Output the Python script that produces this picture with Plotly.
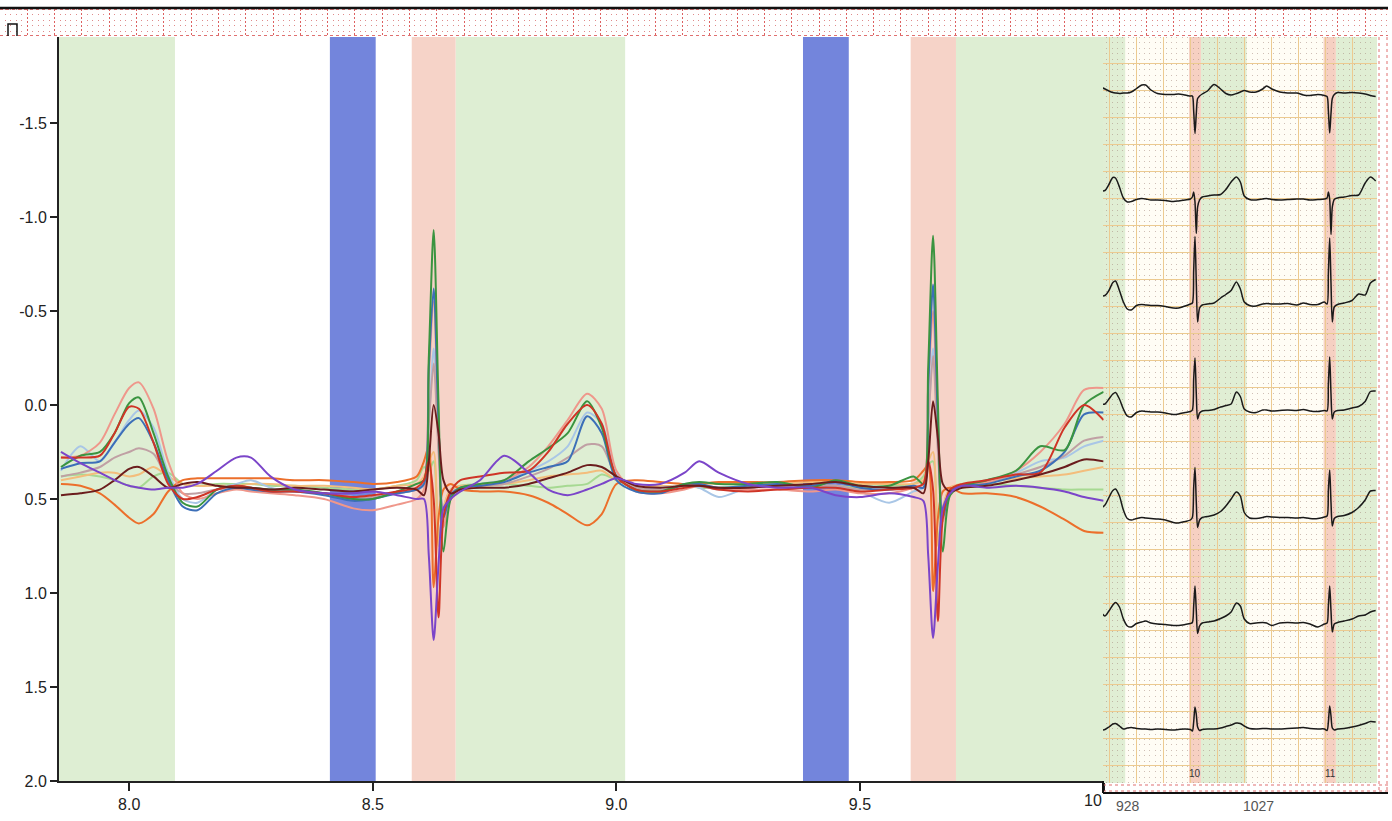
import plotly.graph_objects as go

W, H = 1392, 821


def pxx(x):
    return x / W


def pyy(y):
    return 1 - y / H


# ---------------- data ----------------
t = [7.86, 7.90, 7.94, 7.97, 8.00, 8.02, 8.05, 8.08, 8.11, 8.14,
     8.18, 8.22, 8.25, 8.29, 8.34, 8.40, 8.46, 8.50, 8.55, 8.59,
     8.605, 8.615, 8.625, 8.635, 8.645, 8.66, 8.68, 8.72, 8.77, 8.82,
     8.86, 8.90, 8.94, 8.97, 9.00, 9.04, 9.09, 9.14, 9.17, 9.21,
     9.27, 9.33, 9.40, 9.45, 9.50, 9.56, 9.61, 9.63, 9.64, 9.65,
     9.66, 9.67, 9.685, 9.71, 9.76, 9.82, 9.87, 9.92, 9.96, 10.0]

green_v = [0.33, 0.27, 0.25, 0.15, -0.01, -0.04, 0.15, 0.38, 0.52, 0.54,
           0.45, 0.43, 0.44, 0.45, 0.45, 0.47, 0.50, 0.50, 0.46, 0.42,
           0.40, -0.25, -0.93, 0.00, 0.78, 0.50, 0.44, 0.42, 0.40, 0.30,
           0.23, 0.15, -0.02, 0.12, 0.38, 0.45, 0.46, 0.42, 0.41, 0.42,
           0.42, 0.41, 0.44, 0.40, 0.43, 0.43, 0.38, 0.42, -0.20, -0.90,
           0.00, 0.78, 0.48, 0.43, 0.40, 0.35, 0.22, 0.24, 0.00, -0.07]
blue_v = [0.34, 0.31, 0.30, 0.20, 0.10, 0.07, 0.20, 0.40, 0.54, 0.56,
          0.47, 0.44, 0.45, 0.46, 0.46, 0.48, 0.51, 0.50, 0.47, 0.45,
          0.42, -0.20, -0.62, 0.10, 0.60, 0.48, 0.44, 0.43, 0.41, 0.36,
          0.33, 0.30, 0.06, 0.15, 0.40, 0.46, 0.47, 0.42, 0.42, 0.44,
          0.43, 0.42, 0.43, 0.41, 0.44, 0.45, 0.43, 0.44, -0.10, -0.64,
          0.10, 0.60, 0.46, 0.43, 0.42, 0.38, 0.35, 0.25, 0.05, 0.04]
pink_v = [0.28, 0.27, 0.20, 0.05, -0.09, -0.12, 0.02, 0.30, 0.47, 0.50,
          0.47, 0.45, 0.46, 0.47, 0.48, 0.50, 0.55, 0.56, 0.53, 0.50,
          0.45, -0.15, -0.55, 0.15, 0.65, 0.50, 0.45, 0.43, 0.40, 0.33,
          0.22, 0.08, -0.06, 0.02, 0.35, 0.46, 0.47, 0.45, 0.43, 0.44,
          0.45, 0.45, 0.46, 0.45, 0.47, 0.47, 0.44, 0.42, -0.10, -0.50,
          0.15, 0.62, 0.47, 0.43, 0.41, 0.35, 0.25, 0.10, -0.08, -0.09]
red_v = [0.28, 0.28, 0.27, 0.15, 0.01, 0.02, 0.20, 0.42, 0.50, 0.49,
         0.45, 0.43, 0.44, 0.46, 0.46, 0.47, 0.49, 0.48, 0.46, 0.44,
         0.40, 0.30, 0.50, 1.13, 0.60, 0.46, 0.40, 0.38, 0.36, 0.35,
         0.25, 0.10, 0.00, 0.10, 0.38, 0.45, 0.46, 0.44, 0.43, 0.45,
         0.46, 0.45, 0.44, 0.44, 0.46, 0.45, 0.44, 0.42, 0.30, 0.45,
         1.15, 0.60, 0.45, 0.42, 0.40, 0.37, 0.36, 0.12, 0.00, 0.08]
lightblue_v = [0.35, 0.22, 0.30, 0.20, 0.08, 0.03, 0.12, 0.36, 0.50, 0.52,
               0.45, 0.42, 0.40, 0.44, 0.46, 0.47, 0.49, 0.49, 0.47, 0.45,
               0.43, 0.10, -0.30, 0.20, 0.65, 0.50, 0.44, 0.42, 0.40, 0.35,
               0.30, 0.22, 0.04, 0.10, 0.36, 0.45, 0.44, 0.43, 0.44, 0.49,
               0.44, 0.43, 0.44, 0.43, 0.46, 0.52, 0.46, 0.44, 0.10, -0.30,
               0.20, 0.62, 0.46, 0.43, 0.40, 0.36, 0.30, 0.28, 0.22, 0.19]
rosy_v = [0.38, 0.36, 0.33, 0.28, 0.25, 0.23, 0.26, 0.40, 0.47, 0.47,
          0.45, 0.44, 0.45, 0.46, 0.46, 0.47, 0.49, 0.49, 0.47, 0.45,
          0.42, 0.10, -0.22, 0.25, 0.55, 0.47, 0.44, 0.43, 0.42, 0.38,
          0.34, 0.28, 0.21, 0.22, 0.38, 0.44, 0.45, 0.43, 0.43, 0.45,
          0.44, 0.43, 0.43, 0.43, 0.45, 0.45, 0.44, 0.42, 0.10, -0.26,
          0.25, 0.55, 0.46, 0.43, 0.41, 0.37, 0.33, 0.27, 0.19, 0.17]
maroon_v = [0.48, 0.47, 0.45, 0.40, 0.34, 0.33, 0.38, 0.44, 0.42, 0.41,
            0.43, 0.44, 0.44, 0.45, 0.44, 0.45, 0.46, 0.45, 0.44, 0.45,
            0.48, 0.30, 0.00, 0.15, 0.40, 0.47, 0.45, 0.44, 0.44, 0.42,
            0.39, 0.36, 0.32, 0.33, 0.38, 0.43, 0.44, 0.43, 0.43, 0.44,
            0.44, 0.43, 0.42, 0.41, 0.43, 0.44, 0.44, 0.47, 0.30, -0.02,
            0.18, 0.42, 0.46, 0.44, 0.43, 0.40, 0.37, 0.33, 0.29, 0.30]
tan_v = [0.40, 0.38, 0.36, 0.36, 0.38, 0.37, 0.33, 0.38, 0.42, 0.43,
         0.43, 0.43, 0.42, 0.42, 0.43, 0.43, 0.44, 0.45, 0.43, 0.42,
         0.38, 0.30, 0.25, 0.75, 0.55, 0.45, 0.43, 0.43, 0.42, 0.40,
         0.38, 0.37, 0.36, 0.35, 0.40, 0.43, 0.43, 0.43, 0.42, 0.42,
         0.42, 0.42, 0.41, 0.41, 0.42, 0.42, 0.42, 0.40, 0.30, 0.25,
         0.75, 0.55, 0.44, 0.42, 0.41, 0.39, 0.38, 0.37, 0.35, 0.33]
lightgreen_v = [0.38, 0.37, 0.38, 0.40, 0.43, 0.44, 0.38, 0.36, 0.42, 0.43,
                0.42, 0.42, 0.42, 0.43, 0.43, 0.44, 0.45, 0.45, 0.43, 0.40,
                0.33, 0.35, 0.30, 0.72, 0.55, 0.45, 0.43, 0.42, 0.42, 0.43,
                0.44, 0.43, 0.42, 0.37, 0.40, 0.44, 0.45, 0.43, 0.44, 0.44,
                0.43, 0.43, 0.43, 0.43, 0.44, 0.43, 0.42, 0.38, 0.32, 0.30,
                0.72, 0.55, 0.44, 0.43, 0.42, 0.43, 0.44, 0.45, 0.45, 0.45]
purple_v = [0.25, 0.31, 0.36, 0.40, 0.43, 0.44, 0.45, 0.44, 0.44, 0.42,
            0.35, 0.28, 0.28, 0.38, 0.45, 0.47, 0.47, 0.46, 0.48, 0.50,
            0.50, 0.80, 1.25, 0.85, 0.55, 0.50, 0.46, 0.40, 0.27, 0.36,
            0.45, 0.48, 0.45, 0.42, 0.39, 0.42, 0.42, 0.36, 0.30, 0.36,
            0.42, 0.44, 0.44, 0.48, 0.49, 0.47, 0.49, 0.51, 0.80, 1.24,
            0.85, 0.55, 0.47, 0.43, 0.44, 0.43, 0.44, 0.46, 0.49, 0.51]
orange_v = [0.42, 0.43, 0.47, 0.53, 0.60, 0.63, 0.58, 0.46, 0.40, 0.39,
            0.39, 0.39, 0.39, 0.39, 0.40, 0.40, 0.41, 0.42, 0.41, 0.38,
            0.30, 0.22, 0.97, 0.60, 0.45, 0.42, 0.45, 0.46, 0.46, 0.48,
            0.52, 0.58, 0.64, 0.58, 0.42, 0.40, 0.41, 0.42, 0.42, 0.41,
            0.41, 0.41, 0.40, 0.40, 0.41, 0.41, 0.40, 0.35, 0.32, 0.99,
            0.60, 0.46, 0.44, 0.47, 0.47, 0.49, 0.54, 0.61, 0.67, 0.68]

# shaded intervals (start, end)
green_bands = [(7.856, 8.094), (8.670, 9.018), (9.697, 10.02)]
blue_bands = [(8.412, 8.506), (9.383, 9.477)]
salmon_bands = [(8.580, 8.670), (9.604, 9.697)]

y_ticks = [-1.5, -1.0, -0.5, 0.0, 0.5, 1.0, 1.5, 2.0]
y_ticktext = ["-1.5", "-1.0", "-0.5", "0.0", "0.5", "1.0", "1.5", "2.0"]
x_ticks = [8.0, 8.5, 9.0, 9.5, 10.0]
x_ticktext = ["8.0", "8.5", "9.0", "9.5", ""]
last_tick_label = "10"

beat_labels = ["10", "11"]
beat_times = [8.628, 9.655]
bottom_labels = ["928", "1027"]

# ---------------- styles ----------------
main_series = [
    ("light green", lightgreen_v, "#a6d992"),
    ("tan", tan_v, "#f3bd7c"),
    ("light blue", lightblue_v, "#a9c6e6"),
    ("rosy", rosy_v, "#c0a0a4"),
    ("orange", orange_v, "#ec6f2b"),
    ("pink", pink_v, "#ef978b"),
    ("blue", blue_v, "#3c6fb8"),
    ("green", green_v, "#3a9440"),
    ("red", red_v, "#cf3426"),
    ("maroon", maroon_v, "#6b1d1d"),
    ("purple", purple_v, "#7b45c9"),
]
inset_rows = [purple_v, red_v, green_v, blue_v, pink_v, lightblue_v, maroon_v]
ROW_STEP = 2.12

FONT = "Liberation Sans, Arial, Helvetica, sans-serif"
GREEN = "#deeed3"
BLUE = "#7385dc"
SALMON = "#f6d3c8"
DOTS = "1px,4.4px"

fig = go.Figure()

for name, vals, col in main_series:
    fig.add_trace(go.Scatter(x=t, y=vals, mode="lines", name=name,
                             line=dict(color=col, width=2, shape="spline", smoothing=0.8),
                             xaxis="x", yaxis="y", showlegend=False, hoverinfo="skip"))

for k, vals in enumerate(inset_rows):
    fig.add_trace(go.Scatter(x=t, y=[v + k * ROW_STEP for v in vals], mode="lines",
                             line=dict(color="#1a1a1a", width=1.5, shape="spline", smoothing=0.8),
                             xaxis="x2", yaxis="y2", showlegend=False, hoverinfo="skip"))

# invisible trace to instantiate the strip axes
fig.add_trace(go.Scatter(x=[0], y=[0], mode="markers", marker=dict(opacity=0),
                         xaxis="x3", yaxis="y3", showlegend=False, hoverinfo="skip"))

shapes = []
for a, b in green_bands:
    shapes.append(dict(type="rect", xref="x", yref="y domain", x0=a, x1=b, y0=0, y1=1,
                       fillcolor=GREEN, line=dict(width=0), layer="below"))
for a, b in blue_bands:
    shapes.append(dict(type="rect", xref="x", yref="y domain", x0=a, x1=b, y0=0, y1=1,
                       fillcolor=BLUE, line=dict(width=0), layer="below"))
for a, b in salmon_bands:
    shapes.append(dict(type="rect", xref="x", yref="y domain", x0=a, x1=b, y0=0, y1=1,
                       fillcolor=SALMON, line=dict(width=0), layer="below"))
shapes.append(dict(type="rect", xref="x2 domain", yref="y2 domain", x0=0, x1=1, y0=0, y1=1,
                   fillcolor="#fffdf5", line=dict(width=0), layer="below"))
for a, b in green_bands:
    shapes.append(dict(type="rect", xref="x2", yref="y2 domain", x0=a, x1=b, y0=0, y1=1,
                       fillcolor="#e0eed4", line=dict(width=0), layer="below"))
for a, b in salmon_bands:
    shapes.append(dict(type="rect", xref="x2", yref="y2 domain", x0=a, x1=b, y0=0, y1=1,
                       fillcolor="#f6d0c2", line=dict(width=0), layer="below"))

RED_DOT = "#e07070"
for yy in (785, 791):
    shapes.append(dict(type="line", xref="paper", yref="paper", x0=pxx(1103), x1=pxx(1388),
                       y0=pyy(yy), y1=pyy(yy), line=dict(color=RED_DOT, width=1, dash="dot")))
for xx in (1379, 1387):
    shapes.append(dict(type="line", xref="paper", yref="paper", x0=pxx(xx), x1=pxx(xx),
                       y0=pyy(37), y1=pyy(792), line=dict(color=RED_DOT, width=1, dash="dot")))
for yy in (9.5, 35.5):
    shapes.append(dict(type="line", xref="paper", yref="paper", x0=0, x1=pxx(1388),
                       y0=pyy(yy), y1=pyy(yy), line=dict(color=RED_DOT, width=1, dash="dot")))
shapes.append(dict(type="line", xref="paper", yref="paper", x0=0, x1=pxx(1388),
                   y0=pyy(8), y1=pyy(8), line=dict(color="#111", width=2.5)))
shapes.append(dict(type="line", xref="paper", yref="paper", x0=pxx(1103), x1=pxx(1388),
                   y0=pyy(793), y1=pyy(793), line=dict(color="#111", width=2)))
shapes.append(dict(type="line", xref="paper", yref="paper", x0=pxx(1103), x1=pxx(1103),
                   y0=pyy(781), y1=pyy(793), line=dict(color="#111", width=2)))
shapes.append(dict(type="path", xref="paper", yref="paper",
                   path=f"M {pxx(8)},{pyy(36)} L {pxx(8)},{pyy(24)} L {pxx(17)},{pyy(24)} L {pxx(17)},{pyy(36)}",
                   line=dict(color="#111", width=1.5)))

annotations = []
for lab, bt in zip(beat_labels, beat_times):
    annotations.append(dict(x=bt, y=pyy(773), xref="x2", yref="paper", text=lab, showarrow=False,
                            font=dict(size=10, color="#333", family=FONT), xanchor="center", yanchor="middle"))
for lab, xx in zip(bottom_labels, [1128, 1258]):
    annotations.append(dict(x=pxx(xx), y=pyy(806), xref="paper", yref="paper", text=lab, showarrow=False,
                            font=dict(size=14, color="#555", family=FONT), xanchor="center", yanchor="middle"))
annotations.append(dict(x=pxx(1104), y=pyy(800), xref="paper", yref="paper", text=last_tick_label,
                        showarrow=False, font=dict(size=16, color="#222", family=FONT),
                        xanchor="right", yanchor="middle"))

fig.update_layout(
    width=W, height=H, autosize=False,
    margin=dict(l=0, r=0, t=0, b=0, pad=0),
    paper_bgcolor="white", plot_bgcolor="rgba(0,0,0,0)",
    font=dict(family=FONT, size=16, color="#222"),
    shapes=shapes, annotations=annotations,
    xaxis=dict(domain=[pxx(59), pxx(1103.6)], range=[7.856, 10.0], anchor="y", automargin=False,
               tickvals=x_ticks, ticktext=x_ticktext, ticks="outside", ticklen=8, tickwidth=1.5,
               tickcolor="#222", showline=True, linecolor="#222", linewidth=2,
               showgrid=False, zeroline=False, tickfont=dict(size=16, color="#222")),
    yaxis=dict(domain=[pyy(781), pyy(37)], range=[2.0, -1.957], anchor="x", automargin=False,
               tickvals=y_ticks, ticktext=y_ticktext, ticks="outside", ticklen=7, tickwidth=1.5,
               tickcolor="#222", showline=True, linecolor="#222", linewidth=2,
               showgrid=False, zeroline=False, tickfont=dict(size=16, color="#222")),
    xaxis2=dict(domain=[pxx(1103), pxx(1377)], range=[7.925, 10.01], anchor="y2", automargin=False,
                showticklabels=False, ticks="", showline=False, zeroline=False,
                showgrid=True, gridcolor="#ecca90", gridwidth=1, tick0=8.181, dtick=0.205,
                minor=dict(dtick=0.041, showgrid=True, gridcolor="rgba(160,130,120,0.5)",
                           griddash=DOTS, gridwidth=1)),
    yaxis2=dict(domain=[pyy(783), pyy(37)], range=[14.24, -0.68], anchor="x2", automargin=False,
                showticklabels=False, ticks="", showline=False, zeroline=False,
                showgrid=True, gridcolor="#ecca90", gridwidth=1, tick0=-0.16, dtick=0.54),
    xaxis3=dict(domain=[0, pxx(1388)], range=[0, 1388], anchor="y3", automargin=False,
                showticklabels=False, ticks="", showline=False, zeroline=False,
                showgrid=True, gridcolor="#dd6060", griddash="2px,2px", gridwidth=1, tick0=0, dtick=27.3,
                minor=dict(dtick=5.46, showgrid=True, gridcolor="rgba(215,110,110,0.8)",
                           griddash=DOTS, gridwidth=1)),
    yaxis3=dict(domain=[pyy(36), pyy(9)], range=[0, 27], anchor="x3", automargin=False,
                showticklabels=False, ticks="", showline=False, zeroline=False, showgrid=False),
)

fig.write_html("out.html", config={"responsive": False},
               post_script="document.body.style.margin='0';document.body.style.overflow='hidden';document.documentElement.style.overflow='hidden';")
